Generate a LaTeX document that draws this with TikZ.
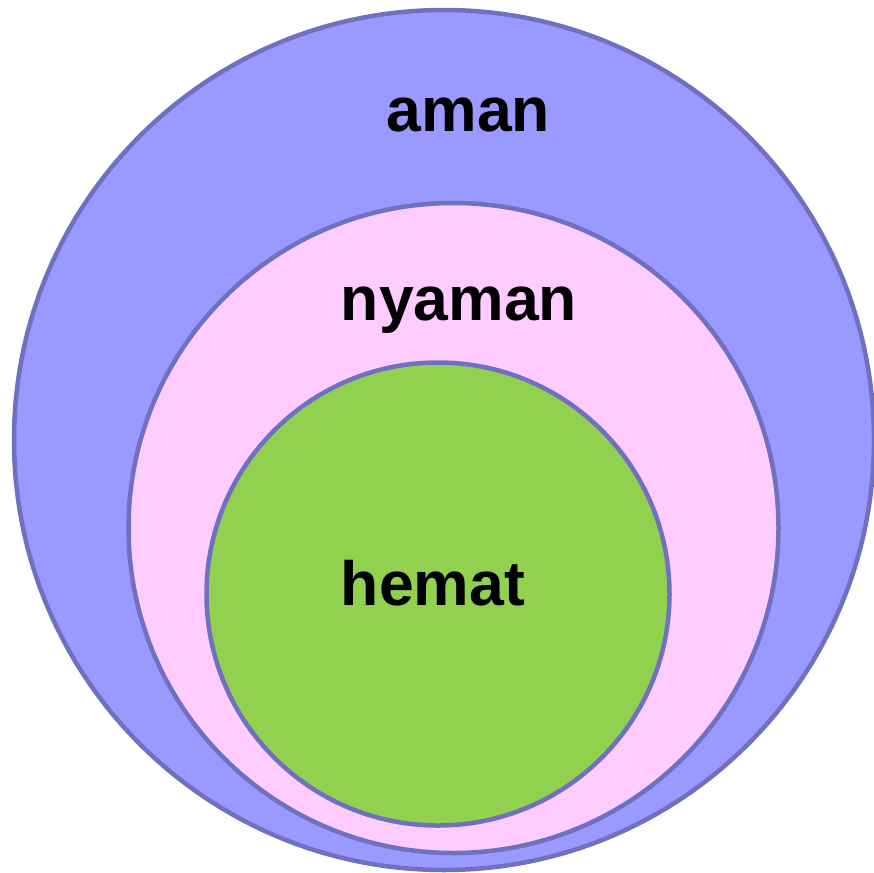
\documentclass[tikz,border=0pt]{standalone}
\usepackage{fontspec}
\setmainfont{Liberation Sans}
\definecolor{ringline}{HTML}{7070C0}
\definecolor{outerfill}{HTML}{9999FF}
\definecolor{midfill}{HTML}{FFCCFF}
\definecolor{innerfill}{HTML}{92D050}
\begin{document}
\begin{tikzpicture}[x=1pt,y=-1pt,
  ring/.style={draw=ringline,line width=4.5pt},
  lbl/.style={font=\fontsize{62.5}{70}\selectfont\bfseries,text=black,anchor=base,inner sep=0pt}]
\useasboundingbox (0,0) rectangle (873,873);
% nested sets, largest first
\draw[ring,fill=outerfill] (444,440) circle[radius=430];
\draw[ring,fill=midfill] (453.5,528) circle[radius=325];
\draw[ring,fill=innerfill] (438,594) circle[radius=231.5];
% set names
\node[lbl] (aman) at (468.5,131) {aman};
\node[lbl] (nyaman) at (459,320) {nyaman};
\node[lbl] (hemat) at (433,605) {hemat};
\end{tikzpicture}
\end{document}
